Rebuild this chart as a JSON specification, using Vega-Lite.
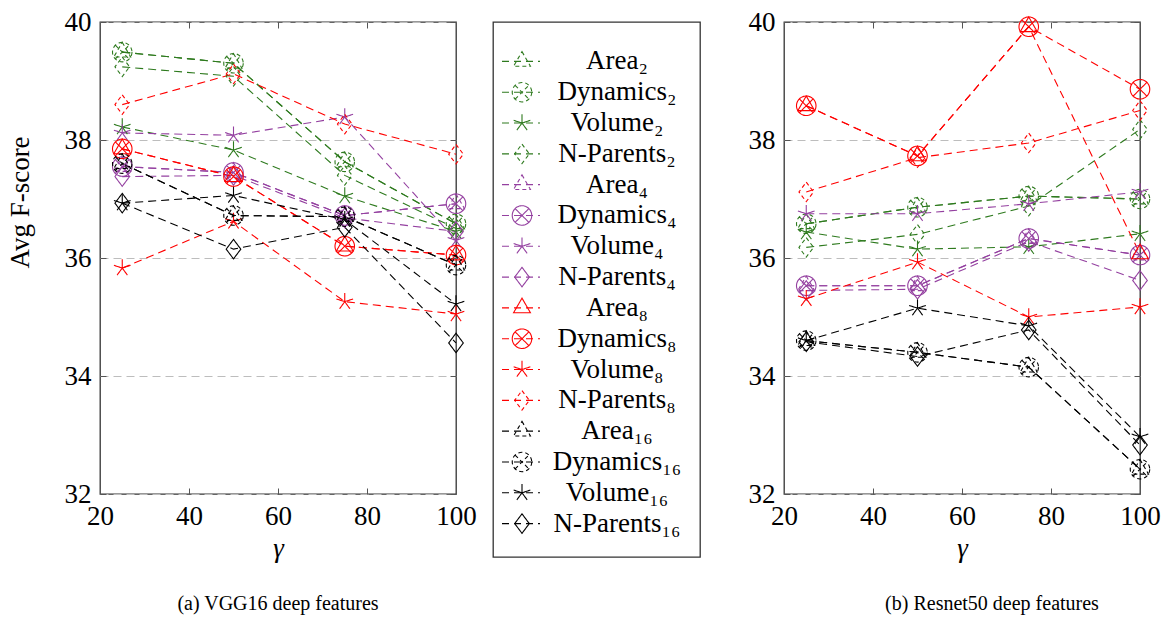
{
  "$schema": "https://vega.github.io/schema/vega-lite/v6.json",
  "padding": {"left": 5, "top": 7, "right": 5, "bottom": 5},
  "config": {
    "font": "Liberation Serif",
    "view": {"stroke": "#333", "strokeWidth": 1.3},
    "axis": {"labelFontSize": 27, "titleFontSize": 27, "titleFontWeight": "normal", "labelColor": "#000", "titleColor": "#000", "domain": false, "tickColor": "#555", "tickSize": -6, "labelPadding": 15, "grid": false, "labelFlush": false},
    "title": {"fontSize": 20, "fontWeight": "normal", "color": "#000", "orient": "bottom", "anchor": "middle", "offset": 33}
  },
  "spacing": 15,
  "datasets": {
    "vgg": [
      {"s": "Area₂", "g": 25, "v": 39.49}, {"s": "Area₂", "g": 50, "v": 39.30}, {"s": "Area₂", "g": 75, "v": 37.63}, {"s": "Area₂", "g": 100, "v": 36.58},
      {"s": "Dynamics₂", "g": 25, "v": 39.49}, {"s": "Dynamics₂", "g": 50, "v": 39.30}, {"s": "Dynamics₂", "g": 75, "v": 37.63}, {"s": "Dynamics₂", "g": 100, "v": 36.58},
      {"s": "Volume₂", "g": 25, "v": 38.22}, {"s": "Volume₂", "g": 50, "v": 37.83}, {"s": "Volume₂", "g": 75, "v": 37.05}, {"s": "Volume₂", "g": 100, "v": 36.45},
      {"s": "N-Parents₂", "g": 25, "v": 39.24}, {"s": "N-Parents₂", "g": 50, "v": 39.08}, {"s": "N-Parents₂", "g": 75, "v": 37.40}, {"s": "N-Parents₂", "g": 100, "v": 36.50},
      {"s": "Area₄", "g": 25, "v": 37.55}, {"s": "Area₄", "g": 50, "v": 37.45}, {"s": "Area₄", "g": 75, "v": 36.72}, {"s": "Area₄", "g": 100, "v": 36.92},
      {"s": "Dynamics₄", "g": 25, "v": 37.55}, {"s": "Dynamics₄", "g": 50, "v": 37.45}, {"s": "Dynamics₄", "g": 75, "v": 36.72}, {"s": "Dynamics₄", "g": 100, "v": 36.92},
      {"s": "Volume₄", "g": 25, "v": 38.12}, {"s": "Volume₄", "g": 50, "v": 38.08}, {"s": "Volume₄", "g": 75, "v": 38.39}, {"s": "Volume₄", "g": 100, "v": 36.30},
      {"s": "N-Parents₄", "g": 25, "v": 37.38}, {"s": "N-Parents₄", "g": 50, "v": 37.40}, {"s": "N-Parents₄", "g": 75, "v": 36.68}, {"s": "N-Parents₄", "g": 100, "v": 36.45},
      {"s": "Area₈", "g": 25, "v": 37.85}, {"s": "Area₈", "g": 50, "v": 37.38}, {"s": "Area₈", "g": 75, "v": 36.20}, {"s": "Area₈", "g": 100, "v": 36.05},
      {"s": "Dynamics₈", "g": 25, "v": 37.85}, {"s": "Dynamics₈", "g": 50, "v": 37.38}, {"s": "Dynamics₈", "g": 75, "v": 36.20}, {"s": "Dynamics₈", "g": 100, "v": 36.05},
      {"s": "Volume₈", "g": 25, "v": 35.83}, {"s": "Volume₈", "g": 50, "v": 36.62}, {"s": "Volume₈", "g": 75, "v": 35.26}, {"s": "Volume₈", "g": 100, "v": 35.05},
      {"s": "N-Parents₈", "g": 25, "v": 38.60}, {"s": "N-Parents₈", "g": 50, "v": 39.12}, {"s": "N-Parents₈", "g": 75, "v": 38.27}, {"s": "N-Parents₈", "g": 100, "v": 37.76},
      {"s": "Area₁₆", "g": 25, "v": 37.60}, {"s": "Area₁₆", "g": 50, "v": 36.72}, {"s": "Area₁₆", "g": 75, "v": 36.70}, {"s": "Area₁₆", "g": 100, "v": 35.88},
      {"s": "Dynamics₁₆", "g": 25, "v": 37.60}, {"s": "Dynamics₁₆", "g": 50, "v": 36.72}, {"s": "Dynamics₁₆", "g": 75, "v": 36.70}, {"s": "Dynamics₁₆", "g": 100, "v": 35.88},
      {"s": "Volume₁₆", "g": 25, "v": 36.93}, {"s": "Volume₁₆", "g": 50, "v": 37.06}, {"s": "Volume₁₆", "g": 75, "v": 36.65}, {"s": "Volume₁₆", "g": 100, "v": 35.22},
      {"s": "N-Parents₁₆", "g": 25, "v": 36.93}, {"s": "N-Parents₁₆", "g": 50, "v": 36.15}, {"s": "N-Parents₁₆", "g": 75, "v": 36.52}, {"s": "N-Parents₁₆", "g": 100, "v": 34.56}
    ],
    "res": [
      {"s": "Area₂", "g": 25, "v": 36.58}, {"s": "Area₂", "g": 50, "v": 36.86}, {"s": "Area₂", "g": 75, "v": 37.05}, {"s": "Area₂", "g": 100, "v": 37.00},
      {"s": "Dynamics₂", "g": 25, "v": 36.58}, {"s": "Dynamics₂", "g": 50, "v": 36.86}, {"s": "Dynamics₂", "g": 75, "v": 37.05}, {"s": "Dynamics₂", "g": 100, "v": 37.00},
      {"s": "Volume₂", "g": 25, "v": 36.44}, {"s": "Volume₂", "g": 50, "v": 36.15}, {"s": "Volume₂", "g": 75, "v": 36.19}, {"s": "Volume₂", "g": 100, "v": 36.41},
      {"s": "N-Parents₂", "g": 25, "v": 36.18}, {"s": "N-Parents₂", "g": 50, "v": 36.40}, {"s": "N-Parents₂", "g": 75, "v": 36.88}, {"s": "N-Parents₂", "g": 100, "v": 38.18},
      {"s": "Area₄", "g": 25, "v": 35.53}, {"s": "Area₄", "g": 50, "v": 35.53}, {"s": "Area₄", "g": 75, "v": 36.33}, {"s": "Area₄", "g": 100, "v": 36.05},
      {"s": "Dynamics₄", "g": 25, "v": 35.53}, {"s": "Dynamics₄", "g": 50, "v": 35.53}, {"s": "Dynamics₄", "g": 75, "v": 36.33}, {"s": "Dynamics₄", "g": 100, "v": 36.05},
      {"s": "Volume₄", "g": 25, "v": 36.75}, {"s": "Volume₄", "g": 50, "v": 36.75}, {"s": "Volume₄", "g": 75, "v": 36.92}, {"s": "Volume₄", "g": 100, "v": 37.12},
      {"s": "N-Parents₄", "g": 25, "v": 35.45}, {"s": "N-Parents₄", "g": 50, "v": 35.47}, {"s": "N-Parents₄", "g": 75, "v": 36.28}, {"s": "N-Parents₄", "g": 100, "v": 35.62},
      {"s": "Area₈", "g": 25, "v": 38.58}, {"s": "Area₈", "g": 50, "v": 37.73}, {"s": "Area₈", "g": 75, "v": 39.92}, {"s": "Area₈", "g": 100, "v": 36.07},
      {"s": "Dynamics₈", "g": 25, "v": 38.58}, {"s": "Dynamics₈", "g": 50, "v": 37.73}, {"s": "Dynamics₈", "g": 75, "v": 39.92}, {"s": "Dynamics₈", "g": 100, "v": 38.86},
      {"s": "Volume₈", "g": 25, "v": 35.31}, {"s": "Volume₈", "g": 50, "v": 35.93}, {"s": "Volume₈", "g": 75, "v": 35.00}, {"s": "Volume₈", "g": 100, "v": 35.17},
      {"s": "N-Parents₈", "g": 25, "v": 37.12}, {"s": "N-Parents₈", "g": 50, "v": 37.70}, {"s": "N-Parents₈", "g": 75, "v": 37.95}, {"s": "N-Parents₈", "g": 100, "v": 38.50},
      {"s": "Area₁₆", "g": 25, "v": 34.60}, {"s": "Area₁₆", "g": 50, "v": 34.40}, {"s": "Area₁₆", "g": 75, "v": 34.15}, {"s": "Area₁₆", "g": 100, "v": 32.42},
      {"s": "Dynamics₁₆", "g": 25, "v": 34.60}, {"s": "Dynamics₁₆", "g": 50, "v": 34.40}, {"s": "Dynamics₁₆", "g": 75, "v": 34.15}, {"s": "Dynamics₁₆", "g": 100, "v": 32.42},
      {"s": "Volume₁₆", "g": 25, "v": 34.60}, {"s": "Volume₁₆", "g": 50, "v": 35.15}, {"s": "Volume₁₆", "g": 75, "v": 34.85}, {"s": "Volume₁₆", "g": 100, "v": 32.97},
      {"s": "N-Parents₁₆", "g": 25, "v": 34.58}, {"s": "N-Parents₁₆", "g": 50, "v": 34.33}, {"s": "N-Parents₁₆", "g": 75, "v": 34.78}, {"s": "N-Parents₁₆", "g": 100, "v": 32.83}
    ],
    "leg": [
      {"s": "Area₂"}, {"s": "Dynamics₂"}, {"s": "Volume₂"}, {"s": "N-Parents₂"},
      {"s": "Area₄"}, {"s": "Dynamics₄"}, {"s": "Volume₄"}, {"s": "N-Parents₄"},
      {"s": "Area₈"}, {"s": "Dynamics₈"}, {"s": "Volume₈"}, {"s": "N-Parents₈"},
      {"s": "Area₁₆"}, {"s": "Dynamics₁₆"}, {"s": "Volume₁₆"}, {"s": "N-Parents₁₆"}
    ]
  },
  "hconcat": [
    {
      "width": 356, "height": 472,
      "data": {"name": "vgg"},
      "title": {"text": "(a) VGG16 deep features"},
      "layer": [
        {
          "mark": {"type": "line", "strokeWidth": 1.1, "strokeDash": [8, 5]},
          "encoding": {
            "x": {"field": "g", "type": "quantitative", "scale": {"domain": [20, 100], "nice": false}, "axis": {"orient": "bottom", "values": [20, 40, 60, 80, 100], "title": "γ", "titleFontStyle": "italic", "titlePadding": 6}},
            "y": {"field": "v", "type": "quantitative", "scale": {"domain": [32, 40], "nice": false, "zero": false}, "axis": {"orient": "left", "values": [32, 34, 36, 38, 40], "title": "Avg F-score", "titlePadding": 30, "titleY": 180, "grid": true, "gridColor": "#bdbdbd", "gridDash": [8, 5], "gridWidth": 1}},
            "color": {"field": "s", "type": "nominal", "legend": null, "scale": {"domain": ["Area₂","Dynamics₂","Volume₂","N-Parents₂","Area₄","Dynamics₄","Volume₄","N-Parents₄","Area₈","Dynamics₈","Volume₈","N-Parents₈","Area₁₆","Dynamics₁₆","Volume₁₆","N-Parents₁₆"], "range": ["#2e7a1e","#2e7a1e","#2e7a1e","#2e7a1e","#9440a0","#9440a0","#9440a0","#9440a0","#ff0000","#ff0000","#ff0000","#ff0000","#000000","#000000","#000000","#000000"]}},
            "order": {"field": "g", "type": "quantitative"}
          }
        },
        {
          "mark": {"type": "point", "filled": false, "size": 380, "strokeWidth": 1.1, "opacity": 1},
          "encoding": {
            "x": {"field": "g", "type": "quantitative", "axis": {"orient": "top", "values": [20, 40, 60, 80, 100], "labels": false, "title": null}},
            "y": {"field": "v", "type": "quantitative", "axis": {"orient": "right", "values": [32, 34, 36, 38, 40], "labels": false, "title": null}},
            "color": {"field": "s", "type": "nominal", "legend": null},
            "shape": {"field": "s", "type": "nominal", "legend": null, "scale": {"domain": ["Area₂","Dynamics₂","Volume₂","N-Parents₂","Area₄","Dynamics₄","Volume₄","N-Parents₄","Area₈","Dynamics₈","Volume₈","N-Parents₈","Area₁₆","Dynamics₁₆","Volume₁₆","N-Parents₁₆"], "range": ["M0,-1L0.866,0.5L-0.866,0.5Z","M1,0A1,1,0,1,1,-1,0A1,1,0,1,1,1,0ZM-0.707,-0.707L0.707,0.707M-0.707,0.707L0.707,-0.707","M0,0L0,-0.9M0,0L0.856,-0.278M0,0L0.529,0.728M0,0L-0.529,0.728M0,0L-0.856,-0.278","M0,-1L0.75,0L0,1L-0.75,0Z","M0,-1L0.866,0.5L-0.866,0.5Z","M1,0A1,1,0,1,1,-1,0A1,1,0,1,1,1,0ZM-0.707,-0.707L0.707,0.707M-0.707,0.707L0.707,-0.707","M0,0L0,-0.9M0,0L0.856,-0.278M0,0L0.529,0.728M0,0L-0.529,0.728M0,0L-0.856,-0.278","M0,-1L0.75,0L0,1L-0.75,0Z","M0,-1L0.866,0.5L-0.866,0.5Z","M1,0A1,1,0,1,1,-1,0A1,1,0,1,1,1,0ZM-0.707,-0.707L0.707,0.707M-0.707,0.707L0.707,-0.707","M0,0L0,-0.9M0,0L0.856,-0.278M0,0L0.529,0.728M0,0L-0.529,0.728M0,0L-0.856,-0.278","M0,-1L0.75,0L0,1L-0.75,0Z","M0,-1L0.866,0.5L-0.866,0.5Z","M1,0A1,1,0,1,1,-1,0A1,1,0,1,1,1,0ZM-0.707,-0.707L0.707,0.707M-0.707,0.707L0.707,-0.707","M0,0L0,-0.9M0,0L0.856,-0.278M0,0L0.529,0.728M0,0L-0.529,0.728M0,0L-0.856,-0.278","M0,-1L0.75,0L0,1L-0.75,0Z"]}},
            "strokeDash": {"field": "s", "type": "nominal", "legend": null, "scale": {"domain": ["Area₂","Dynamics₂","Volume₂","N-Parents₂","Area₄","Dynamics₄","Volume₄","N-Parents₄","Area₈","Dynamics₈","Volume₈","N-Parents₈","Area₁₆","Dynamics₁₆","Volume₁₆","N-Parents₁₆"], "range": [[4,3],[4,3],[1,0],[4,3],[4,3],[1,0],[1,0],[1,0],[1,0],[1,0],[1,0],[4,3],[4,3],[4,3],[1,0],[1,0]]}}
          }
        }
      ]
    },
    {
      "width": 207, "height": 535,
      "data": {"name": "leg"},
      "layer": [
        {
          "mark": {"type": "rule", "strokeWidth": 1.1, "strokeDash": [7, 5]},
          "encoding": {
            "x": {"datum": 9, "type": "quantitative", "scale": {"domain": [0, 207], "nice": false, "zero": false}, "axis": null},
            "x2": {"datum": 47},
            "y": {"field": "s", "type": "nominal", "sort": null, "scale": {"type": "point", "domain": ["Area₂","Dynamics₂","Volume₂","N-Parents₂","Area₄","Dynamics₄","Volume₄","N-Parents₄","Area₈","Dynamics₈","Volume₈","N-Parents₈","Area₁₆","Dynamics₁₆","Volume₁₆","N-Parents₁₆"], "range": [24, 517]}, "axis": null},
            "color": {"field": "s", "type": "nominal", "legend": null}
          }
        },
        {
          "mark": {"type": "point", "filled": false, "size": 380, "strokeWidth": 1.1, "opacity": 1},
          "encoding": {
            "x": {"datum": 29, "type": "quantitative"},
            "y": {"field": "s", "type": "nominal"},
            "color": {"field": "s", "type": "nominal", "legend": null},
            "shape": {"field": "s", "type": "nominal", "legend": null},
            "strokeDash": {"field": "s", "type": "nominal", "legend": null}
          }
        },
        {
          "mark": {"type": "text", "fontSize": 27, "align": "center", "baseline": "middle", "color": "#000"},
          "encoding": {
            "x": {"datum": 124, "type": "quantitative"},
            "y": {"field": "s", "type": "nominal"},
            "text": {"field": "s"}
          }
        }
      ]
    },
    {
      "width": 356, "height": 472,
      "data": {"name": "res"},
      "title": {"text": "(b) Resnet50 deep features", "dx": 30},
      "layer": [
        {
          "mark": {"type": "line", "strokeWidth": 1.1, "strokeDash": [8, 5]},
          "encoding": {
            "x": {"field": "g", "type": "quantitative", "scale": {"domain": [20, 100], "nice": false}, "axis": {"orient": "bottom", "values": [20, 40, 60, 80, 100], "title": "γ", "titleFontStyle": "italic", "titlePadding": 6}},
            "y": {"field": "v", "type": "quantitative", "scale": {"domain": [32, 40], "nice": false, "zero": false}, "axis": {"orient": "left", "values": [32, 34, 36, 38, 40], "title": null, "minExtent": 67, "grid": true, "gridColor": "#bdbdbd", "gridDash": [8, 5], "gridWidth": 1}},
            "color": {"field": "s", "type": "nominal", "legend": null},
            "order": {"field": "g", "type": "quantitative"}
          }
        },
        {
          "mark": {"type": "point", "filled": false, "size": 380, "strokeWidth": 1.1, "opacity": 1},
          "encoding": {
            "x": {"field": "g", "type": "quantitative", "axis": {"orient": "top", "values": [20, 40, 60, 80, 100], "labels": false, "title": null}},
            "y": {"field": "v", "type": "quantitative", "axis": {"orient": "right", "values": [32, 34, 36, 38, 40], "labels": false, "title": null}},
            "color": {"field": "s", "type": "nominal", "legend": null},
            "shape": {"field": "s", "type": "nominal", "legend": null},
            "strokeDash": {"field": "s", "type": "nominal", "legend": null}
          }
        }
      ]
    }
  ]
}
